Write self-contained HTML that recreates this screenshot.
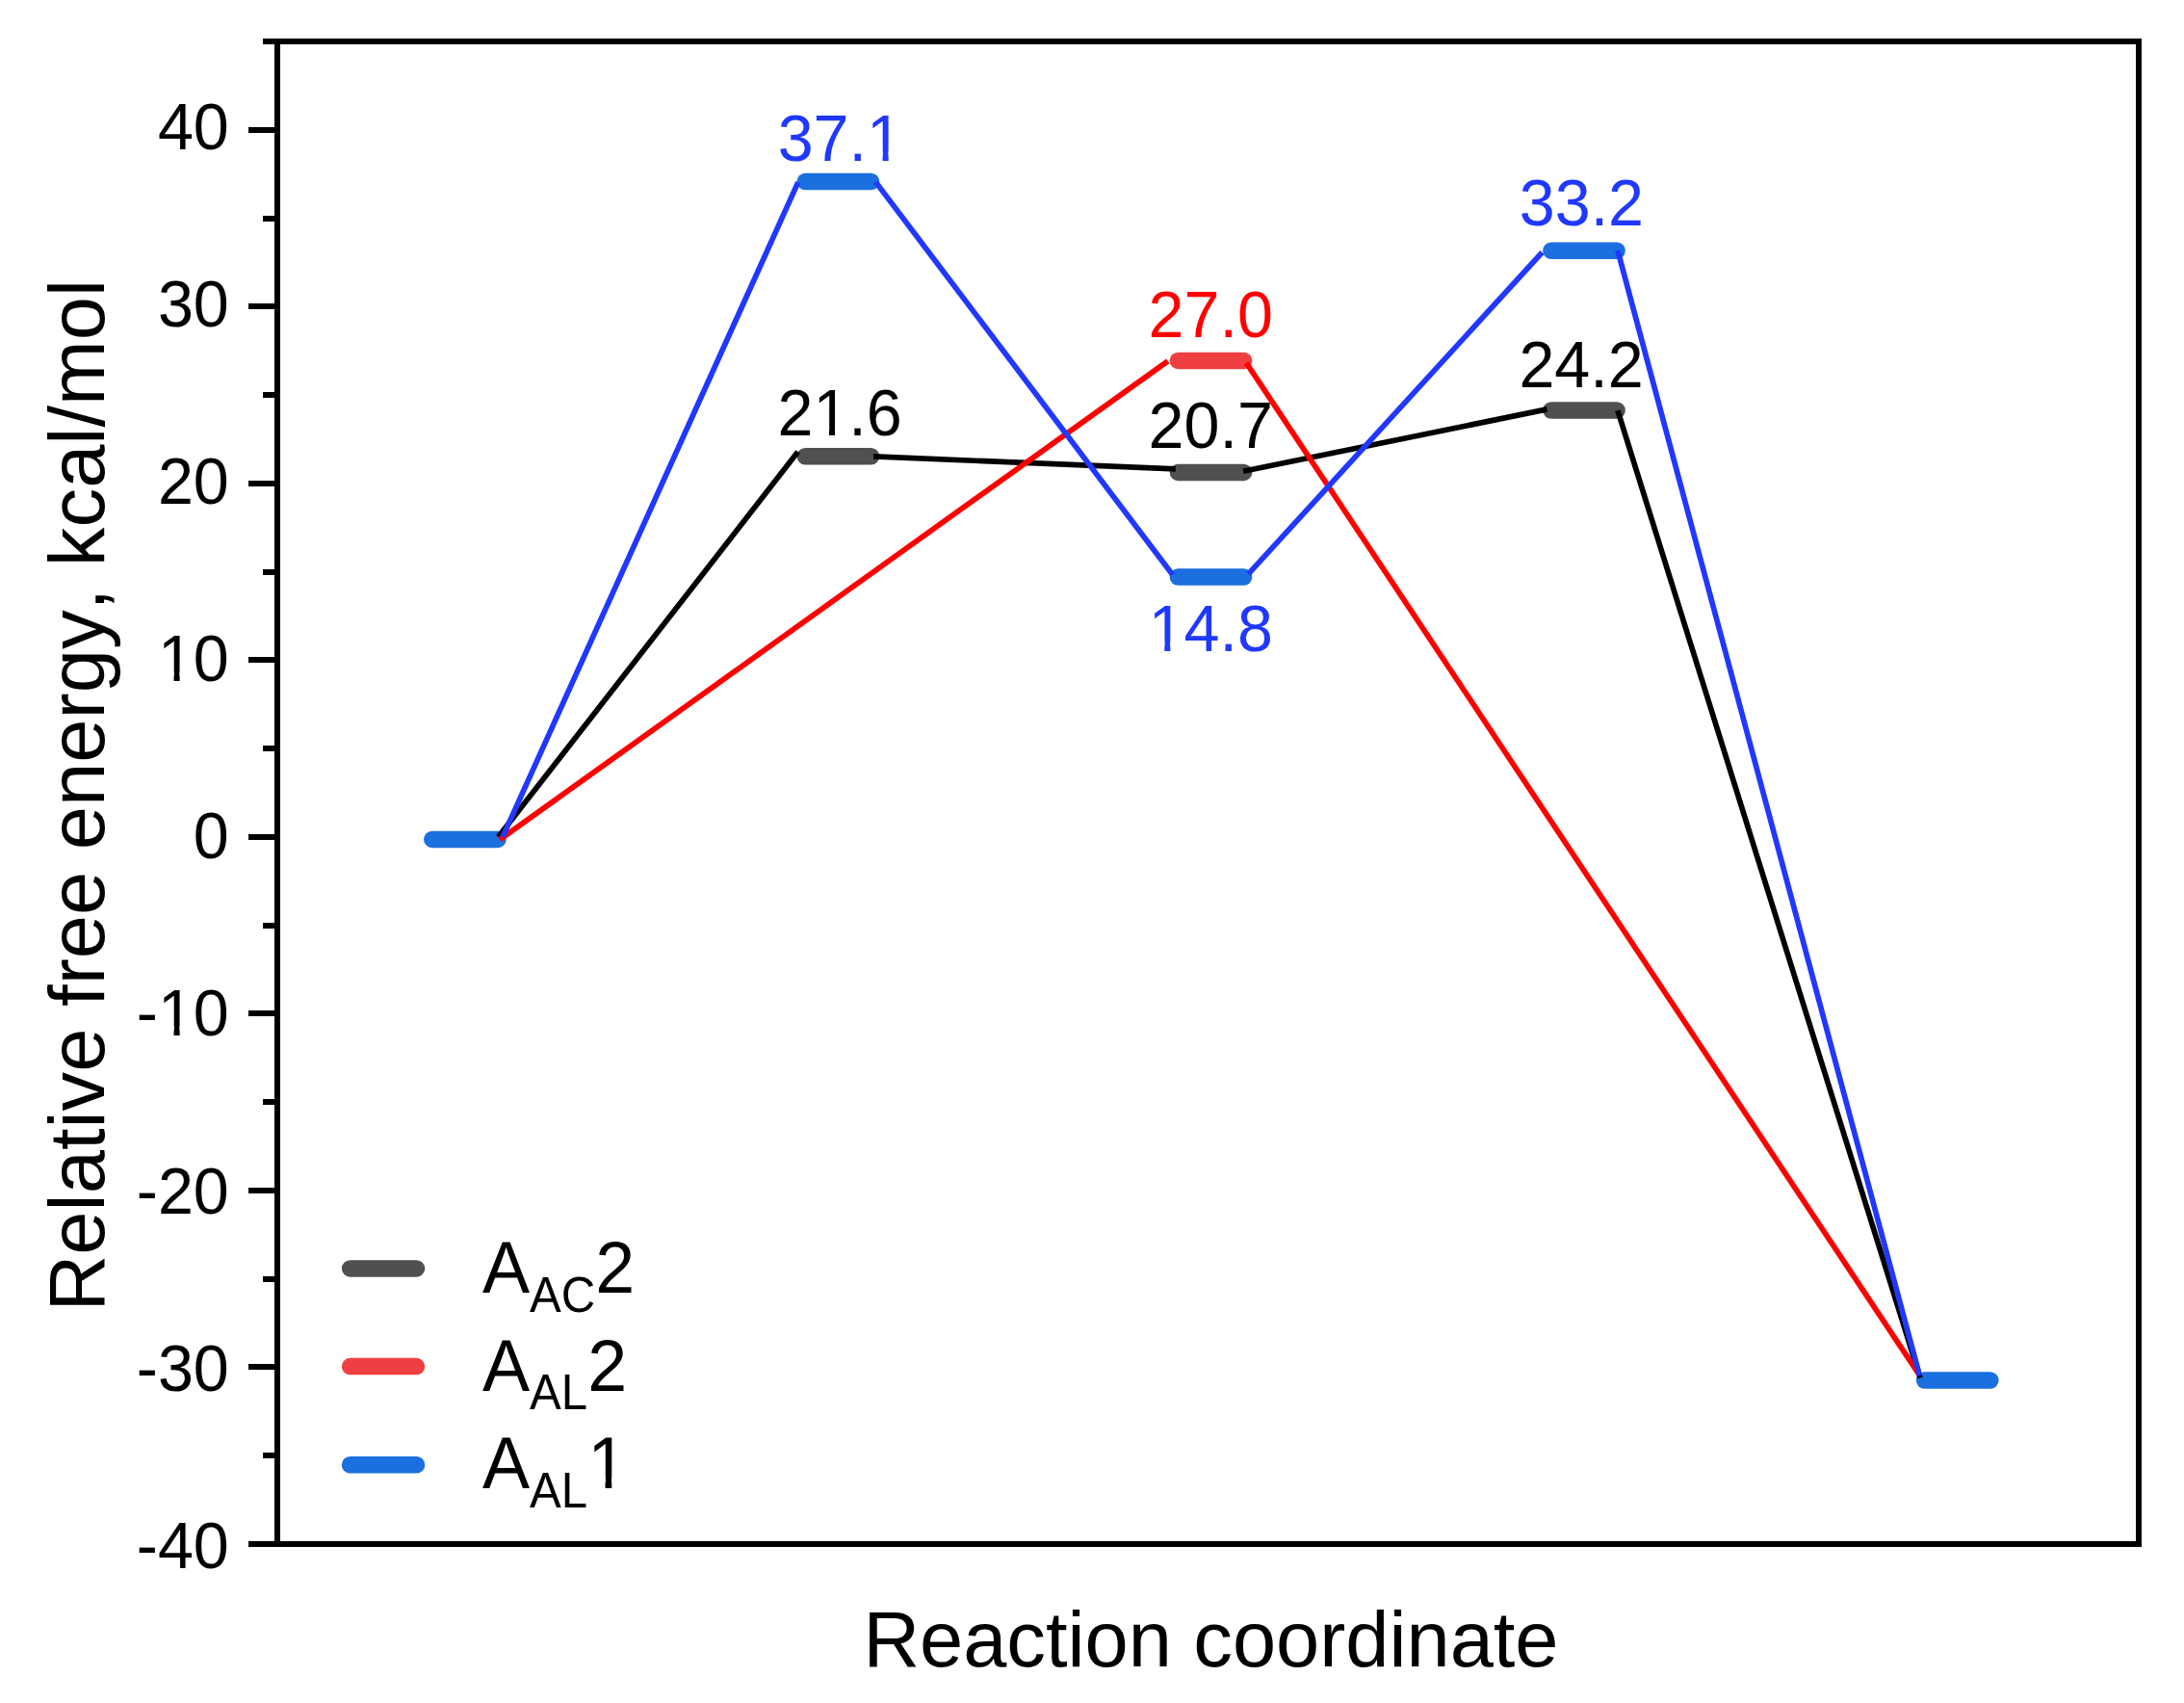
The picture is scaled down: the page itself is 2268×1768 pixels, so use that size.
<!DOCTYPE html>
<html lang="en"><head><meta charset="utf-8"><title>Relative free energy profile</title>
<style>html,body{margin:0;padding:0;background:#fff;}body{width:2268px;height:1768px;overflow:hidden;}svg{display:block;}text{font-family:"Liberation Sans", sans-serif;font-kerning:none;font-variant-ligatures:none;}</style>
</head><body>
<svg width="2268" height="1768" viewBox="0 0 2268 1768">
<rect x="0" y="0" width="2268" height="1768" fill="#ffffff"/>
<defs><clipPath id="c1"><path clip-rule="evenodd" d="M-3000 -3000 H6000 V3000 H-3000 Z M-69.97 -9.73 H-57.26 V0.65 H-69.97 Z M-51.19 -9.73 H-39.00 V0.65 H-51.19 Z"/></clipPath><clipPath id="c2"><path clip-rule="evenodd" d="M-3000 -3000 H6000 V3000 H-3000 Z M-69.97 -9.73 H-57.26 V0.65 H-69.97 Z M-51.19 -9.73 H-39.00 V0.65 H-51.19 Z"/></clipPath><clipPath id="c3"><path clip-rule="evenodd" d="M-3000 -3000 H6000 V3000 H-3000 Z M31.58 -9.73 H44.29 V0.65 H31.58 Z M50.35 -9.73 H62.54 V0.65 H50.35 Z"/></clipPath><clipPath id="c4"><path clip-rule="evenodd" d="M-3000 -3000 H6000 V3000 H-3000 Z M-23.80 -9.73 H-11.09 V0.65 H-23.80 Z M-5.03 -9.73 H7.17 V0.65 H-5.03 Z"/></clipPath><clipPath id="c5"><path clip-rule="evenodd" d="M-3000 -3000 H6000 V3000 H-3000 Z M-60.73 -9.73 H-48.02 V0.65 H-60.73 Z M-41.95 -9.73 H-29.76 V0.65 H-41.95 Z"/></clipPath><clipPath id="c6"><path clip-rule="evenodd" d="M-3000 -3000 H6000 V3000 H-3000 Z M113.46 -10.78 H127.55 V0.72 H113.46 Z M134.27 -10.78 H147.78 V0.72 H134.27 Z"/></clipPath></defs>
<g id="frame" fill="none" stroke="#000" stroke-width="6" stroke-linecap="butt">
<rect x="288" y="43" width="1933" height="1560"/>
<line x1="258" y1="1603.00" x2="288" y2="1603.00"/>
<line x1="273" y1="1511.00" x2="288" y2="1511.00"/>
<line x1="258" y1="1419.00" x2="288" y2="1419.00"/>
<line x1="273" y1="1328.00" x2="288" y2="1328.00"/>
<line x1="258" y1="1236.00" x2="288" y2="1236.00"/>
<line x1="273" y1="1144.00" x2="288" y2="1144.00"/>
<line x1="258" y1="1052.00" x2="288" y2="1052.00"/>
<line x1="273" y1="961.00" x2="288" y2="961.00"/>
<line x1="258" y1="869.00" x2="288" y2="869.00"/>
<line x1="273" y1="777.00" x2="288" y2="777.00"/>
<line x1="258" y1="685.00" x2="288" y2="685.00"/>
<line x1="273" y1="594.00" x2="288" y2="594.00"/>
<line x1="258" y1="502.00" x2="288" y2="502.00"/>
<line x1="273" y1="410.00" x2="288" y2="410.00"/>
<line x1="258" y1="318.00" x2="288" y2="318.00"/>
<line x1="273" y1="227.00" x2="288" y2="227.00"/>
<line x1="258" y1="135.00" x2="288" y2="135.00"/>
<line x1="273" y1="43.00" x2="288" y2="43.00"/>
</g>
<g id="ticklabels" font-size="66.4" fill="#000" text-anchor="end">
<text transform="translate(237.80,1627.87) scale(1,1.04)">-40</text>
<text transform="translate(237.80,1443.73) scale(1,1.04)">-30</text>
<text transform="translate(237.80,1259.59) scale(1,1.04)">-20</text>
<text transform="translate(237.80,1075.45) scale(1,1.04)" clip-path="url(#c1)">-10</text>
<text transform="translate(237.80,891.31) scale(1,1.04)">0</text>
<text transform="translate(237.80,707.17) scale(1,1.04)" clip-path="url(#c2)">10</text>
<text transform="translate(237.80,523.03) scale(1,1.04)">20</text>
<text transform="translate(237.80,338.89) scale(1,1.04)">30</text>
<text transform="translate(237.80,154.75) scale(1,1.04)">40</text>
</g>
<text id="ytitle" font-size="81.3" text-anchor="middle" textLength="1071.5" lengthAdjust="spacing" transform="translate(107.9,825.65) rotate(-90)">Relative free energy, kcal/mol</text>
<text id="xtitle" font-size="81.2" text-anchor="middle" textLength="722.1" lengthAdjust="spacing" x="1257.45" y="1729.9">Reaction coordinate</text>
<g id="bars" fill="none" stroke-width="17.5" stroke-linecap="round">
<line x1="836.30" y1="473.81" x2="904.50" y2="473.81" stroke="#505050"/>
<line x1="1223.40" y1="490.38" x2="1291.60" y2="490.38" stroke="#505050"/>
<line x1="1610.90" y1="425.95" x2="1679.10" y2="425.95" stroke="#505050"/>
<line x1="1223.40" y1="374.41" x2="1291.60" y2="374.41" stroke="#EE4042"/>
<line x1="448.80" y1="871.40" x2="517.00" y2="871.40" stroke="#1B6FDF"/>
<line x1="836.30" y1="188.50" x2="904.50" y2="188.50" stroke="#1B6FDF"/>
<line x1="1223.40" y1="598.98" x2="1291.60" y2="598.98" stroke="#1B6FDF"/>
<line x1="1610.90" y1="260.29" x2="1679.10" y2="260.29" stroke="#1B6FDF"/>
<line x1="1998.60" y1="1433.00" x2="2066.80" y2="1433.00" stroke="#1B6FDF"/>
</g>
<g id="datalabels" font-size="66.4" text-anchor="middle">
<text transform="translate(872.30,166.80) scale(1,1.04)" fill="#2038FF" clip-path="url(#c3)">37.1</text>
<text transform="translate(872.10,451.90) scale(1,1.04)" fill="#000000" clip-path="url(#c4)">21.6</text>
<text transform="translate(1257.20,349.90) scale(1,1.04)" fill="#FF0000">27.0</text>
<text transform="translate(1257.20,464.80) scale(1,1.04)" fill="#000000">20.7</text>
<text transform="translate(1257.30,675.90) scale(1,1.04)" fill="#2038FF" clip-path="url(#c5)">14.8</text>
<text transform="translate(1642.40,233.80) scale(1,1.04)" fill="#2038FF">33.2</text>
<text transform="translate(1642.00,401.90) scale(1,1.04)" fill="#000000">24.2</text>
</g>
<g id="lines" fill="none" stroke-width="5.7" stroke-linecap="butt">
<path d="M517.50 868.85 L828.60 469.00 M907.06 473.96 L1220.80 486.84 M1291.00 489.20 L1606.60 424.90 M1679.90 426.20 L1994.00 1430.50" stroke="#000000"/>
<path d="M519.10 871.65 L1212.80 374.86 M1294.20 376.70 L1992.70 1426.70" stroke="#FF0000"/>
<path d="M522.00 868.90 L828.85 189.10 M909.30 188.90 L1217.75 596.80 M1296.40 595.90 L1601.50 262.00 M1679.90 260.10 L1993.40 1427.90" stroke="#2038FF"/>
</g>
<g id="legend">
<g fill="none" stroke-width="17.5" stroke-linecap="round">
<line x1="363.60" y1="1316.90" x2="432.50" y2="1316.90" stroke="#505050"/>
<line x1="363.60" y1="1418.60" x2="432.50" y2="1418.60" stroke="#EE4042"/>
<line x1="363.60" y1="1520.70" x2="432.50" y2="1520.70" stroke="#1B6FDF"/>
</g>
<text transform="translate(501.00,1342.10) scale(1,1.04)" font-size="73.6" fill="#000">A<tspan font-size="49.1" dy="19.04">AC</tspan><tspan font-size="73.6" dy="-19.04">2</tspan></text>
<text transform="translate(501.00,1443.60) scale(1,1.04)" font-size="73.6" fill="#000">A<tspan font-size="49.1" dy="19.04">AL</tspan><tspan font-size="73.6" dy="-19.04">2</tspan></text>
<text transform="translate(501.00,1545.30) scale(1,1.04)" font-size="73.6" fill="#000" clip-path="url(#c6)">A<tspan font-size="49.1" dy="19.04">AL</tspan><tspan font-size="73.6" dy="-19.04">1</tspan></text>
</g>
</svg>
</body></html>
